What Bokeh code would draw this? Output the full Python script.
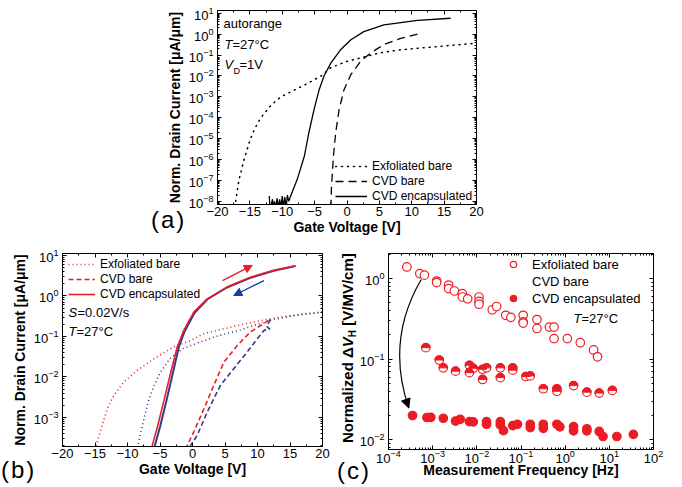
import numpy as np
from bokeh.plotting import figure
from bokeh.models import (LinearAxis, LogAxis, FixedTicker, Label, CustomJSTickFormatter,
                          Legend, LegendItem, Range1d, Arrow, NormalHead, Div)
from bokeh.layouts import column, row
from bokeh.embed import file_html
from bokeh.resources import INLINE

FONT = "Liberation Sans"
RED = "#ec1c24"
NAVY = "#363a86"
ARROW_BLUE = "#1d3aa6"

# ---------------- panel (a): transfer curves, autorange ----------------
a_exf_v = [-17.2, -16.7, -16.3, -15.9, -15.4, -14.9, -14.2, -13.3, -12.0, -11.0, -10.2, -8.0, -6.0, -4.0, -2.5, 0.0, 2.5, 5.0, 8.0, 13.0, 20.0]
a_exf_i = [1e-8, 1e-7, 3.2e-7, 1e-6, 3.2e-6, 1e-5, 3.2e-5, 1e-4, 3.2e-4, 6.3e-4, 1e-3, 2.2e-3, 4.5e-3, 1e-2, 2.5e-2, 5e-2, 7.9e-2, 0.126, 0.174, 0.24, 0.37]

a_cvd_v = [-2.5, -2.45, -2.4, -2.1, -1.75, -1.23, -0.46, 0.57, 2.1, 3.65, 5.7, 8.3, 11.4]
a_cvd_i = [5e-9, 1.26e-8, 5e-8, 1.4e-6, 1.86e-5, 2.4e-4, 2.2e-3, 1.12e-2, 5e-2, 0.126, 0.316, 0.63, 1.1]

a_enc_v = [-12.0, -11.9, -11.8, -11.5, -11.4, -11.2, -11.0, -10.8, -10.6, -10.4, -10.2, -10.0, -9.8, -9.6, -9.4, -9.2, -9.0, -8.7, -7.7, -6.6, -5.9, -5.1, -4.3, -3.55, -2.5, -1.0, 0.6, 2.6, 5.7, 10.9, 16.0]
a_enc_i = [1.8e-8, 5e-9, 5e-9, 1.26e-8, 5e-9, 1e-8, 5e-9, 1.4e-8, 5e-9, 1.26e-8, 5e-9, 1.8e-8, 5e-9, 1.6e-8, 5e-9, 2e-8, 1e-8, 1.8e-8, 1.1e-7, 1.4e-6, 1.86e-5, 2.4e-4, 2.2e-3, 1e-2, 4.1e-2, 0.178, 0.54, 1.32, 2.75, 4.5, 5.75]

# ---------------- panel (b): hysteresis sweeps ----------------
b_exf_fwd_v = [-15.2, -14.66, -13.9, -13.1, -12.1, -10.6, -8.5, -5.95, -2.9, -0.3, 1.7, 6.9, 12.0, 17.1, 20.0]
b_exf_fwd_i = [1e-4, 2.45e-4, 6.3e-4, 1.66e-3, 3.5e-3, 7.4e-3, 1.45e-2, 2.8e-2, 5.5e-2, 7.9e-2, 0.117, 0.186, 0.275, 0.363, 0.40]
b_exf_rev_v = [20.0, 15.0, 12.0, 10.0, 7.0, 4.0, 1.0, -1.5, -3.5, -5.0, -6.0, -6.8, -7.4, -8.0, -8.5]
b_exf_rev_i = [0.40, 0.316, 0.25, 0.20, 0.138, 0.105, 0.071, 0.05, 0.028, 0.0126, 5.6e-3, 2.5e-3, 1e-3, 4e-4, 1.6e-4]

b_cvd_fwd_v = [-0.9, -0.82, 0.2, 1.74, 3.28, 4.82, 6.9, 8.9, 10.5, 11.7, 12.0]
b_cvd_fwd_i = [1.6e-4, 2.0e-4, 4.4e-4, 1.6e-3, 6.2e-3, 2.3e-2, 6.0e-2, 0.129, 0.186, 0.25, 0.263]
b_cvd_rev_v = [12.0, 11.4, 11.9, 11.0, 9.95, 8.4, 6.35, 4.3, 2.26, 0.72, -0.31, -0.4]
b_cvd_rev_i = [0.263, 0.178, 0.151, 0.141, 8.7e-2, 4.1e-2, 1.6e-2, 6.2e-3, 1.35e-3, 3.6e-4, 2.0e-4, 1.6e-4]

b_enc_fwd_v = [-6.3, -6.2, -5.4, -4.4, -3.4, -2.35, -1.34, 0.2, 2.26, 5.3, 8.9, 12.5, 15.85]
b_enc_fwd_i = [1.6e-4, 2.0e-4, 5.8e-4, 2.6e-3, 1.2e-2, 5.5e-2, 0.141, 0.40, 0.85, 1.66, 2.9, 4.3, 5.6]
b_enc_rev_v = [15.85, 12.5, 8.9, 5.3, 2.3, 0.3, -1.2, -2.1, -3.05, -4.0, -5.0, -5.8, -5.95]
b_enc_rev_i = [5.5, 4.2, 2.8, 1.62, 0.83, 0.38, 0.135, 0.055, 1.2e-2, 2.6e-3, 5.8e-4, 2.0e-4, 1.6e-4]

# sweep-direction arrows (gate voltage, current)
b_arrow_fwd = [4.6, 2.4, 9.2, 5.7]
b_arrow_rev = [11.0, 2.4, 6.35, 1.03]

# ---------------- panel (c): hysteresis vs frequency ----------------
c_exf_f = [2.6e-4, 5.1e-4, 6.5e-4, 1.23e-3, 1.23e-3, 2.3e-3, 2.3e-3, 3.1e-3, 4.7e-3, 4.7e-3, 6.2e-3, 1.12e-2, 1.12e-2, 1.12e-2, 2.24e-2, 2.8e-2, 4.5e-2, 5.9e-2, 0.112, 0.112, 0.112, 0.23, 0.23, 0.44, 0.56, 0.56, 1.12, 2.2, 4.4, 5.4]
c_exf_h = [1.39, 1.15, 1.10, 0.93, 0.89, 0.83, 0.75, 0.70, 0.65, 0.59, 0.56, 0.59, 0.52, 0.48, 0.41, 0.45, 0.35, 0.33, 0.35, 0.29, 0.28, 0.31, 0.24, 0.25, 0.25, 0.18, 0.18, 0.16, 0.13, 0.107]

c_cvd_f = [7.0e-4, 1.41e-3, 1.74e-3, 3.3e-3, 6.8e-3, 6.8e-3, 8.3e-3, 1.35e-2, 1.35e-2, 1.66e-2, 3.4e-2, 3.4e-2, 6.5e-2, 6.5e-2, 0.129, 0.162, 0.32, 0.65, 0.65, 1.55, 3.1, 5.9, 11.7]
c_cvd_h = [0.139, 0.0975, 0.078, 0.071, 0.084, 0.068, 0.077, 0.075, 0.056, 0.078, 0.078, 0.059, 0.078, 0.073, 0.061, 0.062, 0.043, 0.043, 0.040, 0.047, 0.039, 0.038, 0.041]

c_enc_f = [3.5e-4, 7.4e-4, 9.1e-4, 1.74e-3, 3.3e-3, 4.2e-3, 6.8e-3, 8.3e-3, 1.66e-2, 1.66e-2, 3.4e-2, 3.4e-2, 4.0e-2, 6.5e-2, 8.3e-2, 0.162, 0.162, 0.32, 0.32, 0.65, 0.76, 1.55, 1.55, 3.1, 3.1, 5.9, 7.2, 14.8, 35.0]
c_enc_h = [0.0200, 0.0189, 0.0190, 0.0185, 0.0171, 0.0180, 0.0168, 0.0167, 0.0168, 0.0156, 0.0168, 0.0153, 0.0130, 0.0150, 0.0156, 0.0156, 0.0142, 0.0156, 0.0139, 0.0156, 0.0145, 0.0146, 0.0129, 0.0137, 0.0129, 0.0127, 0.0110, 0.0110, 0.0117]

# curved arrow (start, control, end) and head segment
c_curve = dict(x0=[5.5e-4], y0=[0.97], cx=[8.6e-5], cy=[0.17], x1=[2.88e-4], y1=[0.0248])
c_head = [2.49e-4, 0.031, 2.88e-4, 0.0248]

# tick labels
lin_ticks = [-20, -15, -10, -5, 0, 5, 10, 15, 20]
a_y_decades = list(range(-8, 2))
b_y_decades = list(range(-3, 2))
c_x_decades = list(range(-4, 3))
c_y_decades = list(range(-2, 1))


def log_ticker(decs):
    major = [10.0 ** e for e in decs]
    minor = [m * 10.0 ** e for e in range(decs[0] - 1, decs[-1] + 1) for m in range(1, 10)]
    return FixedTicker(ticks=major, minor_ticks=minor)


def lin_ticker():
    return FixedTicker(ticks=lin_ticks, minor_ticks=[t + 2.5 for t in lin_ticks[:-1]])


def style_axis(ax, labels=True, tick_size="13px", standoff=3):
    ax.major_tick_in = 4
    ax.major_tick_out = 0
    ax.minor_tick_in = 2
    ax.minor_tick_out = 0
    ax.axis_line_color = "black"
    ax.major_tick_line_color = "black"
    ax.minor_tick_line_color = "black"
    ax.major_label_text_font = FONT
    ax.major_label_text_color = "black"
    ax.major_label_text_font_size = tick_size
    ax.major_label_standoff = standoff
    ax.axis_label_text_font = FONT
    ax.axis_label_text_font_size = "14px"
    ax.axis_label_text_font_style = "bold"
    ax.axis_label_text_color = "black"
    ax.axis_label_standoff = 3
    if not labels:
        ax.formatter = CustomJSTickFormatter(code="return ''")
        ax.major_label_text_font_size = "1px"
        ax.major_label_standoff = 0
        ax.axis_label_standoff = 0


def make_fig(fw, fh, xr, yr, xlog, ylog, mb):
    p = figure(frame_width=fw, frame_height=fh, x_range=xr, y_range=yr,
               x_axis_type="log" if xlog else "linear",
               y_axis_type="log" if ylog else "linear",
               output_backend="svg", toolbar_location=None,
               min_border_left=mb[0], min_border_right=mb[1],
               min_border_top=mb[2], min_border_bottom=mb[3])
    p.xgrid.visible = False
    p.ygrid.visible = False
    p.outline_line_color = "black"
    p.outline_line_width = 1
    p.background_fill_color = "white"
    p.border_fill_color = "white"
    return p


def mirror(p, xt, yt, xlog, ylog):
    top = LogAxis(ticker=xt) if xlog else LinearAxis(ticker=xt)
    right = LogAxis(ticker=yt) if ylog else LinearAxis(ticker=yt)
    style_axis(top, labels=False)
    style_axis(right, labels=False)
    p.add_layout(top, "above")
    p.add_layout(right, "right")


def add_text(p, fl, fb, px, py, text, size="13px", style="normal", angle=0.0,
             align="left", baseline="middle"):
    p.add_layout(Label(x=px - fl, y=fb - py, x_units="screen", y_units="screen",
                       text=text, text_font=FONT, text_font_size=size,
                       text_font_style=style, text_color="black", angle=angle,
                       text_align=align, text_baseline=baseline))


def page_text(html, left, top, css=None):
    st = {"position": "absolute", "left": f"{left}px", "top": f"{top}px",
          "font-family": "'Liberation Sans', Arial, sans-serif", "white-space": "nowrap",
          "color": "black", "line-height": "1", "margin": "0", "padding": "0"}
    if css:
        st.update(css)
    return Div(text=html, styles=st)


def style_legend(lg, size, gw, gh, standoff, spacing):
    lg.label_text_font = FONT
    lg.label_text_font_size = size
    lg.label_text_color = "black"
    lg.glyph_width = gw
    lg.glyph_height = gh
    lg.label_height = gh
    lg.label_standoff = standoff
    lg.spacing = spacing
    lg.padding = 0
    lg.margin = 0
    lg.border_line_alpha = 0
    lg.background_fill_alpha = 0


# frame positions on the page (used for text placement)
A_L, A_B = 217, 204
B_L, B_B = 62, 446
C_L, C_B = 388, 448

# ================= panel (a) =================
pa = make_fig(259, 194, Range1d(-20, 20), Range1d(10 ** -8.15, 10 ** 1.13), False, True,
              (217, 206, 10, 36))
pa.xaxis[0].ticker = lin_ticker()
pa.yaxis[0].ticker = log_ticker(a_y_decades)
style_axis(pa.xaxis[0], standoff=2)
style_axis(pa.yaxis[0], standoff=4)
pa.xaxis[0].axis_label = "Gate Voltage [V]"
pa.xaxis[0].axis_label_standoff = 0
pa.yaxis[0].axis_label = "Norm. Drain Current [\u03bcA/\u03bcm]"
mirror(pa, lin_ticker(), log_ticker(a_y_decades), False, True)

ra1 = pa.line(a_exf_v, a_exf_i, line_color="black", line_width=1.5, line_dash="1 5", line_cap="round")
ra2 = pa.line(a_cvd_v, a_cvd_i, line_color="black", line_width=1.3, line_dash="8 5")
ra3 = pa.line(a_enc_v, a_enc_i, line_color="black", line_width=1.3)
lga = Legend(items=[LegendItem(label="Exfoliated bare", renderers=[ra1]),
                    LegendItem(label="CVD bare", renderers=[ra2]),
                    LegendItem(label="CVD encapsulated", renderers=[ra3])],
             location=(118, 1))
style_legend(lga, "12px", 32, 14, 5, 1)
pa.add_layout(lga)

add_text(pa, A_L, A_B, 223, 23, "autorange")
add_text(pa, A_L, A_B, 224, 44, "T", style="italic")
add_text(pa, A_L, A_B, 232, 44, "=27\u00b0C")
add_text(pa, A_L, A_B, 224, 64, "V", style="italic")
add_text(pa, A_L, A_B, 233, 70, "D", size="9px")
add_text(pa, A_L, A_B, 239, 64, "=1V")

# ================= panel (b) =================
pb = make_fig(260, 193, Range1d(-20, 20), Range1d(10 ** -3.72, 10 ** 1.05), False, True,
              (62, 13, 13, 41))
pb.xaxis[0].ticker = lin_ticker()
pb.yaxis[0].ticker = log_ticker(b_y_decades)
style_axis(pb.xaxis[0], standoff=2)
style_axis(pb.yaxis[0], standoff=4)
pb.xaxis[0].axis_label = "Gate Voltage [V]"
pb.xaxis[0].axis_label_standoff = 0
pb.yaxis[0].axis_label = "Norm. Drain Current [\u03bcA/\u03bcm]"
mirror(pb, lin_ticker(), log_ticker(b_y_decades), False, True)

pb.line(b_exf_rev_v, b_exf_rev_i, line_color=NAVY, line_width=1.6, line_dash="1 3")
pb.line(b_cvd_rev_v, b_cvd_rev_i, line_color=NAVY, line_width=1.6, line_dash="5 3")
pb.line(b_enc_rev_v, b_enc_rev_i, line_color=NAVY, line_width=2.0)
rb1 = pb.line(b_exf_fwd_v, b_exf_fwd_i, line_color=RED, line_width=1.6, line_dash="1 3")
rb2 = pb.line(b_cvd_fwd_v, b_cvd_fwd_i, line_color=RED, line_width=1.6, line_dash="5 3")
rb3 = pb.line(b_enc_fwd_v, b_enc_fwd_i, line_color=RED, line_width=1.6)

pb.add_layout(Arrow(end=NormalHead(size=8, fill_color=RED, line_color=RED),
                    x_start=b_arrow_fwd[0], y_start=b_arrow_fwd[1],
                    x_end=b_arrow_fwd[2], y_end=b_arrow_fwd[3],
                    line_color=RED, line_width=1.3))
pb.add_layout(Arrow(end=NormalHead(size=8, fill_color=ARROW_BLUE, line_color=ARROW_BLUE),
                    x_start=b_arrow_rev[0], y_start=b_arrow_rev[1],
                    x_end=b_arrow_rev[2], y_end=b_arrow_rev[3],
                    line_color=ARROW_BLUE, line_width=1.3))

lgb = Legend(items=[LegendItem(label="Exfoliated bare", renderers=[rb1]),
                    LegendItem(label="CVD bare", renderers=[rb2]),
                    LegendItem(label="CVD encapsulated", renderers=[rb3])],
             location=(6, 145))
style_legend(lgb, "12px", 27, 14, 5, 1)
pb.add_layout(lgb)

add_text(pb, B_L, B_B, 68, 312, "S", style="italic")
add_text(pb, B_L, B_B, 77, 312, "=0.02V/s")
add_text(pb, B_L, B_B, 68, 331, "T", style="italic")
add_text(pb, B_L, B_B, 76, 331, "=27\u00b0C")

# ================= panel (c) =================
pc = make_fig(265, 196, Range1d(1e-4, 1e2), Range1d(10 ** -2.12, 10 ** 0.31), True, True,
              (53, 29, 12, 39))
pc.xaxis[0].ticker = log_ticker(c_x_decades)
pc.yaxis[0].ticker = log_ticker(c_y_decades)
style_axis(pc.xaxis[0], standoff=0)
style_axis(pc.yaxis[0], standoff=4)
pc.xaxis[0].axis_label = "Measurement Frequency [Hz]"
pc.xaxis[0].axis_label_standoff = -4
mirror(pc, log_ticker(c_x_decades), log_ticker(c_y_decades), True, True)

pc.quadratic(line_color="black", line_width=1.2, **c_curve)
pc.add_layout(Arrow(end=NormalHead(size=9, fill_color="black", line_color="black"),
                    x_start=c_head[0], y_start=c_head[1], x_end=c_head[2], y_end=c_head[3],
                    line_color="black", line_width=1.2))

rc1 = pc.scatter(c_exf_f, c_exf_h, marker="circle", size=8.5, fill_color="white",
                 line_color=RED, line_width=1.2)
rc2 = pc.scatter(c_cvd_f, c_cvd_h, marker="circle", size=8.5, fill_color="white",
                 line_color=RED, line_width=1.2)
pc.wedge(c_cvd_f, c_cvd_h, radius=4.25, radius_units="screen", start_angle=0,
         end_angle=np.pi, fill_color=RED, line_color=RED, line_width=1)
rc3 = pc.scatter(c_enc_f, c_enc_h, marker="circle", size=8.5, fill_color=RED,
                 line_color=RED, line_width=1.2)
# legend proxy for the half-filled marker (no data points)
rc2a = pc.scatter([], [], marker="circle", size=8.5, fill_color=RED, line_color=RED, line_width=1.2)
rc2b = pc.scatter([], [], marker="dash", size=5, line_color="white", line_width=1.6)

lgc = Legend(items=[LegendItem(label="Exfoliated bare", renderers=[rc1]),
                    LegendItem(label="CVD bare", renderers=[rc2a, rc2b]),
                    LegendItem(label="CVD encapsulated", renderers=[rc3])],
             location=(115, 143))
style_legend(lgc, "13px", 20, 16, 9, 1)
pc.add_layout(lgc)

add_text(pc, C_L, C_B, 573, 317, "T", style="italic")
add_text(pc, C_L, C_B, 581, 317, "=27\u00b0C")

# ---------------- texts outside the plot frames (page coordinates) ----------------
big = {"font-size": "24px", "letter-spacing": "2px"}
div_a = page_text("(a)", 151, 208, big)
div_b = page_text("(b)", 1, 458, big)
div_c = page_text("(c)", 337, 459, big)
div_cy = page_text('Normalized &Delta;<i>V</i><sub style="font-size:10px;vertical-align:-3px">H</sub> [V/MV/cm]',
                   340, 443, {"font-size": "15px", "font-weight": "bold",
                              "transform": "rotate(-90deg)", "transform-origin": "0 0"})

layout = column(pa, row(pb, pc), div_a, div_b, div_c, div_cy)
open("out.html", "w").write(file_html(layout, INLINE))
